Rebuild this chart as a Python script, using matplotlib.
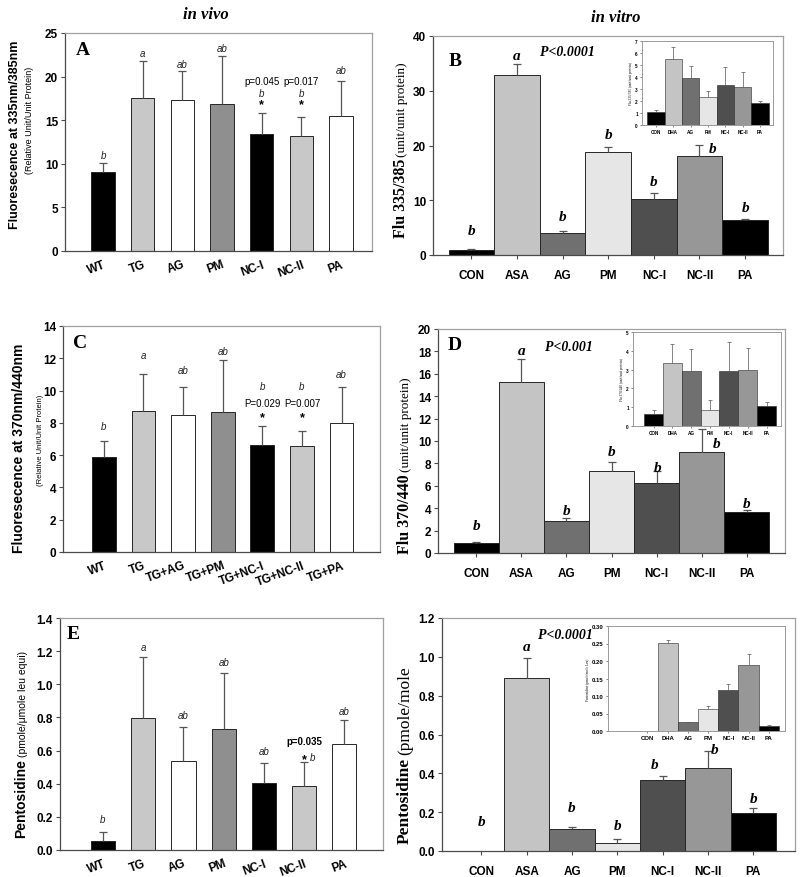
import matplotlib
matplotlib.use('Agg')
import matplotlib.pyplot as plt
import numpy as np

W, H = 800, 878
SANS = 'Liberation Sans'
SERIF = 'Liberation Serif'

# ---------------- data ----------------
vivo_cats = ['WT', 'TG', 'AG', 'PM', 'NC-I', 'NC-II', 'PA']
c_cats = ['WT', 'TG', 'TG+AG', 'TG+PM', 'TG+NC-I', 'TG+NC-II', 'TG+PA']
vitro_cats = ['CON', 'ASA', 'AG', 'PM', 'NC-I', 'NC-II', 'PA']
inset_cats = ['CON', 'DHA', 'AG', 'PM', 'NC-I', 'NC-II', 'PA']

a_vals = [9.05, 17.55, 17.35, 16.85, 13.4, 13.2, 15.5]
a_errs = [1.02, 4.25, 3.25, 5.55, 2.4, 2.2, 4.0]
a_letters = ['b', 'a', 'ab', 'ab', 'b', 'b', 'ab']
a_letter_y = [11.0, 22.75, 21.5, 23.3, 18.1, 18.1, 20.7]
a_pvals = ['', '', '', '', 'p=0.045', 'p=0.017', '']

c_vals = [5.87, 8.75, 8.5, 8.67, 6.65, 6.55, 7.97]
c_errs = [1.03, 2.29, 1.75, 3.2, 1.17, 0.96, 2.28]
c_letters = ['b', 'a', 'ab', 'ab', 'b', 'b', 'ab']
c_letter_y = [7.8, 12.2, 11.25, 12.45, 10.3, 10.3, 11.05]
c_pvals = ['', '', '', '', 'P=0.029', 'P=0.007', '']

e_vals = [0.056, 0.796, 0.536, 0.729, 0.403, 0.385, 0.64]
e_errs = [0.055, 0.368, 0.205, 0.341, 0.121, 0.149, 0.146]
e_letters = ['b', 'a', 'ab', 'ab', 'ab', 'b', 'ab']
e_letter_y = [0.19, 1.225, 0.815, 1.135, 0.6, 0.56, 0.838]
e_letter_dx = [0, 0, 0, 0, 0, 0.22, 0]
e_pvals = ['', '', '', '', '', 'p=0.035', '']

b_vals = [0.92, 32.8, 4.05, 18.75, 10.3, 18.1, 6.45]
b_errs = [0.2, 2.0, 0.3, 0.9, 1.1, 2.0, 0.2]
b_letters = ['b', 'a', 'b', 'b', 'b', 'b', 'b']
b_letter_y = [4.4, 36.4, 7.1, 22.1, 13.5, 19.5, 8.7]
b_letter_dx = [0, 0, 0, 0, 0, 0.28, 0]
b_in_vals = [1.08, 5.53, 3.89, 2.36, 3.36, 3.17, 1.83]
b_in_errs = [0.17, 1.0, 1.05, 0.5, 1.5, 1.22, 0.17]

d_vals = [0.89, 15.27, 2.82, 7.32, 6.28, 9.02, 3.66]
d_errs = [0.06, 2.02, 0.3, 0.8, 1.01, 2.02, 0.21]
d_letters = ['b', 'a', 'b', 'b', 'b', 'b', 'b']
d_letter_y = [2.46, 18.1, 3.8, 9.07, 7.6, 9.76, 4.4]
d_letter_dx = [0, 0, 0, 0, 0.02, 0.33, 0]
d_in_vals = [0.625, 3.375, 2.95, 0.84, 2.95, 3.0, 1.07]
d_in_errs = [0.215, 1.0, 1.14, 0.535, 1.5, 1.125, 0.2]

f_vals = [0.0, 0.892, 0.115, 0.043, 0.367, 0.43, 0.195]
f_errs = [0.0, 0.101, 0.011, 0.021, 0.02, 0.083, 0.024]
f_letters = ['b', 'a', 'b', 'b', 'b', 'b', 'b']
f_letter_y = [0.15, 1.054, 0.224, 0.129, 0.448, 0.525, 0.272]
f_letter_dx = [0, 0, 0, 0, -0.18, 0.15, 0]
f_in_vals = [0.0, 0.251, 0.0254, 0.062, 0.117, 0.19, 0.013]
f_in_errs = [0.0, 0.009, 0.0016, 0.01, 0.018, 0.03, 0.005]

vivo_colors = ['#000000', '#c8c8c8', '#ffffff', '#8f8f8f', '#000000', '#c8c8c8', '#ffffff']
vitro_colors = ['#000000', '#c4c4c4', '#707070', '#e6e6e6', '#4f4f4f', '#979797', '#000000']

# ---------------- helpers ----------------
fig = plt.figure(figsize=(8, 8.78), dpi=100)
renderer = fig.canvas.get_renderer()


def px_axes(l, t, r, b):
    return fig.add_axes([l / W, 1 - b / H, (r - l) / W, (b - t) / H])


def draw_bars(ax, vals, errs, colors, width, ecolor='#555555', capsize=3, elw=0.9, lw=0.7):
    vals = np.asarray(vals, float)
    errs = np.asarray(errs, float)
    x = np.arange(len(vals))
    ax.bar(x, vals, width=width, color=colors, edgecolor='#262626', linewidth=lw, zorder=2)
    m = errs > 0
    eb = ax.errorbar(x[m], vals[m], yerr=[np.zeros(m.sum()), errs[m]], fmt='none',
                     ecolor=ecolor, elinewidth=elw, capsize=capsize, capthick=elw, zorder=3)
    eb[1][0].set_visible(False)
    return x


def style_frame(ax, dark='#4a4a4a', light='#a0a0a0', lw=0.9):
    for s in ['left', 'bottom']:
        ax.spines[s].set_color(dark)
        ax.spines[s].set_linewidth(lw)
    for s in ['top', 'right']:
        ax.spines[s].set_color(light)
        ax.spines[s].set_linewidth(lw)


def style_main(ax, ymax, ystep, xlim, cats, fmt, rotated):
    ax.set_ylim(0, ymax)
    ticks = np.arange(0, ymax + ystep * 0.01, ystep)
    ax.set_yticks(ticks)
    ax.set_yticklabels([fmt.format(t) for t in ticks], fontfamily=SANS,
                       fontweight='bold', fontsize=8.5)
    ax.set_xlim(*xlim)
    ax.set_xticks(range(len(cats)))
    if rotated:
        ax.set_xticklabels(cats, rotation=20, ha='right', rotation_mode='anchor',
                           fontfamily=SANS, fontweight='bold', fontsize=8.5)
        ax.tick_params(axis='x', length=0, pad=5)
    else:
        ax.set_xticklabels(cats, fontfamily=SANS, fontweight='bold', fontsize=8.5)
        ax.tick_params(axis='x', length=3, pad=7, color='#4a4a4a', direction='out')
    ax.tick_params(axis='y', length=3, width=0.8, color='#4a4a4a', direction='out', pad=2)
    style_frame(ax)


def style_inset(ax, ymax, ystep, xlim, cats, fmt, fs, yl, ylfs):
    ax.set_ylim(0, ymax)
    ticks = np.arange(0, ymax + ystep * 0.01, ystep)
    ax.set_yticks(ticks)
    ax.set_yticklabels([fmt.format(t) for t in ticks], fontfamily=SANS,
                       fontweight='bold', fontsize=fs)
    ax.set_xlim(*xlim)
    ax.set_xticks(range(len(cats)))
    ax.set_xticklabels(cats, fontfamily=SANS, fontweight='bold', fontsize=fs)
    ax.tick_params(axis='both', length=1.5, width=0.5, pad=1.5, color='#555555')
    for s in ax.spines.values():
        s.set_color('#9a9a9a')
        s.set_linewidth(0.7)
    ax.set_ylabel(yl, fontfamily=SERIF, fontsize=ylfs, labelpad=1.5)


def vtext(xp, yp, s, **kw):
    return fig.text(xp / W, 1 - yp / H, s, rotation=90, ha='center', va='center', **kw)


def two_part(xp, bottom_px, main, main_kw, sub, sub_kw, gap=3, xsub=None):
    t = fig.text(xp / W, 1 - bottom_px / H, main, rotation=90, ha='center',
                 va='bottom', **main_kw)
    ext = t.get_window_extent(renderer)
    top_frac = (ext.y1 + gap) / H
    xs = xp if xsub is None else xsub
    fig.text(xs / W, top_frac, sub, rotation=90, ha='center', va='bottom', **sub_kw)


# ---------------- titles ----------------
fig.text(206 / W, 1 - 15 / H, 'in vivo', fontfamily=SERIF, fontweight='bold',
         fontstyle='italic', fontsize=12, ha='center', va='center')
fig.text(616 / W, 1 - 18 / H, 'in vitro', fontfamily=SERIF, fontweight='bold',
         fontstyle='italic', fontsize=12, ha='center', va='center')

# ---------------- Panel A ----------------
axA = px_axes(65, 34, 372, 252)
xA = draw_bars(axA, a_vals, a_errs, vivo_colors, 0.59)
style_main(axA, 25, 5, (-0.96, 6.78), vivo_cats, '{:.0f}', True)
axA.text(0.035, 0.925, 'A', transform=axA.transAxes, fontfamily=SERIF,
         fontweight='bold', fontsize=14, va='center', ha='left')
for i, (lab, y) in enumerate(zip(a_letters, a_letter_y)):
    axA.text(xA[i], y, lab, fontfamily=SANS, fontstyle='italic', fontsize=7,
             ha='center', va='center', color='#222222')
for i, p in enumerate(a_pvals):
    if p:
        axA.text(xA[i], 19.5, p, fontfamily=SANS, fontsize=7, ha='center', va='center')
        axA.text(xA[i], 16.8, '*', fontfamily=SANS, fontweight='bold', fontsize=9,
                 ha='center', va='center')
vtext(15.5, 135, 'Fluoresecence at 335nm/385nm', fontfamily=SANS, fontweight='bold', fontsize=9)
vtext(30, 120, '(Relative Unit/Unit Protein)', fontfamily=SANS, fontsize=6.5)

# ---------------- Panel C ----------------
axC = px_axes(63, 327, 380, 553)
xC = draw_bars(axC, c_vals, c_errs, vivo_colors, 0.6)
style_main(axC, 14, 2, (-1.03, 6.97), c_cats, '{:.0f}', True)
axC.text(0.03, 0.925, 'C', transform=axC.transAxes, fontfamily=SERIF,
         fontweight='bold', fontsize=14, va='center', ha='left')
for i, (lab, y) in enumerate(zip(c_letters, c_letter_y)):
    axC.text(xC[i], y, lab, fontfamily=SANS, fontstyle='italic', fontsize=7,
             ha='center', va='center', color='#222222')
for i, p in enumerate(c_pvals):
    if p:
        axC.text(xC[i], 9.2, p, fontfamily=SANS, fontsize=7, ha='center', va='center')
        axC.text(xC[i], 8.35, '*', fontfamily=SANS, fontweight='bold', fontsize=9,
                 ha='center', va='center')
vtext(19, 448, 'Fluoresecence at 370nm/440nm', fontfamily=SANS, fontweight='bold', fontsize=10)
vtext(41, 440, '(Relative Unit/Unit Protein)', fontfamily=SANS, fontsize=5.5)

# ---------------- Panel E ----------------
axE = px_axes(60, 619, 383, 851)
xE = draw_bars(axE, e_vals, e_errs, vivo_colors, 0.6)
style_main(axE, 1.4, 0.2, (-1.07, 6.96), vivo_cats, '{:.1f}', True)
axE.text(0.022, 0.935, 'E', transform=axE.transAxes, fontfamily=SERIF,
         fontweight='bold', fontsize=14, va='center', ha='left')
for i, (lab, y) in enumerate(zip(e_letters, e_letter_y)):
    axE.text(xE[i] + e_letter_dx[i], y, lab, fontfamily=SANS, fontstyle='italic',
             fontsize=7, ha='center', va='center', color='#222222')
for i, p in enumerate(e_pvals):
    if p:
        axE.text(xE[i], 0.655, p, fontfamily=SANS, fontweight='bold', fontsize=7,
                 ha='center', va='center')
        axE.text(xE[i], 0.548, '*', fontfamily=SANS, fontweight='bold', fontsize=9,
                 ha='center', va='center')
two_part(21, 838, 'Pentosidine', dict(fontfamily=SANS, fontweight='bold', fontsize=10),
         '(pmole/\u03bcmole leu equi)', dict(fontfamily=SANS, fontsize=7.5), gap=2, xsub=23)

# ---------------- Panel B ----------------
axB = px_axes(433, 37, 783, 256)
xB = draw_bars(axB, b_vals, b_errs, vitro_colors, 1.0)
style_main(axB, 40, 10, (-0.84, 6.83), vitro_cats, '{:.0f}', False)
axB.text(0.045, 0.886, 'B', transform=axB.transAxes, fontfamily=SERIF,
         fontweight='bold', fontsize=14, va='center', ha='left')
axB.text(0.383, 0.927, 'P<0.0001', transform=axB.transAxes, fontfamily=SERIF,
         fontweight='bold', fontstyle='italic', fontsize=10, va='center', ha='center')
for i, (lab, y) in enumerate(zip(b_letters, b_letter_y)):
    axB.text(xB[i] + b_letter_dx[i], y, lab, fontfamily=SERIF, fontweight='bold',
             fontstyle='italic', fontsize=11, ha='center', va='center')
two_part(401, 238, 'Flu 335/385', dict(fontfamily=SERIF, fontweight='bold', fontsize=11.5),
         '(unit/unit protein)', dict(fontfamily=SERIF, fontsize=9.5), gap=2, xsub=402)

axBi = px_axes(642, 42, 773, 126)
draw_bars(axBi, b_in_vals, b_in_errs, vitro_colors, 1.0, capsize=1.5, elw=0.5, lw=0.4)
style_inset(axBi, 7, 1, (-0.8, 6.75), inset_cats, '{:.0f}', 3.3,
            'Flu 335/385 (unit/unit protein)', 2.5)

# ---------------- Panel D ----------------
axD = px_axes(438, 330, 785, 554)
xD = draw_bars(axD, d_vals, d_errs, vitro_colors, 1.0)
style_main(axD, 20, 2, (-0.85, 6.85), vitro_cats, '{:.0f}', False)
axD.text(0.029, 0.933, 'D', transform=axD.transAxes, fontfamily=SERIF,
         fontweight='bold', fontsize=14, va='center', ha='left')
axD.text(0.378, 0.92, 'P<0.001', transform=axD.transAxes, fontfamily=SERIF,
         fontweight='bold', fontstyle='italic', fontsize=10, va='center', ha='center')
for i, (lab, y) in enumerate(zip(d_letters, d_letter_y)):
    axD.text(xD[i] + d_letter_dx[i], y, lab, fontfamily=SERIF, fontweight='bold',
             fontstyle='italic', fontsize=11, ha='center', va='center')
two_part(405, 554, 'Flu 370/440', dict(fontfamily=SERIF, fontweight='bold', fontsize=11.5),
         '(unit/unit protein)', dict(fontfamily=SERIF, fontsize=9.5), gap=2, xsub=406)

axDi = px_axes(633, 333, 781, 427)
draw_bars(axDi, d_in_vals, d_in_errs, vitro_colors, 1.0, capsize=1.5, elw=0.5, lw=0.4)
style_inset(axDi, 5, 1, (-1.09, 6.77), inset_cats, '{:.0f}', 3.3,
            'Flu 370/440 (unit/unit protein)', 2.5)

# ---------------- Panel F ----------------
axF = px_axes(442, 619, 795, 852)
xF = draw_bars(axF, f_vals, f_errs, vitro_colors, 1.0)
style_main(axF, 1.2, 0.2, (-0.87, 6.92), vitro_cats, '{:.1f}', False)
axF.text(0.351, 0.931, 'P<0.0001', transform=axF.transAxes, fontfamily=SERIF,
         fontweight='bold', fontstyle='italic', fontsize=10, va='center', ha='center')
for i, (lab, y) in enumerate(zip(f_letters, f_letter_y)):
    axF.text(xF[i] + f_letter_dx[i], y, lab, fontfamily=SERIF, fontweight='bold',
             fontstyle='italic', fontsize=11, ha='center', va='center')
two_part(405, 844, 'Pentosidine', dict(fontfamily=SERIF, fontweight='bold', fontsize=12.5),
         '(pmole/mole', dict(fontfamily=SERIF, fontsize=12.5), gap=3)

axFi = px_axes(608, 627, 785, 732)
draw_bars(axFi, f_in_vals, f_in_errs, vitro_colors, 1.0, capsize=1.5, elw=0.5, lw=0.4)
style_inset(axFi, 0.30, 0.05, (-1.95, 6.8), inset_cats, '{:.2f}', 4.3,
            'Pentosidine (pmole/mole Leu)', 2.5)

fig.savefig('out.png', dpi=100, facecolor='white')
